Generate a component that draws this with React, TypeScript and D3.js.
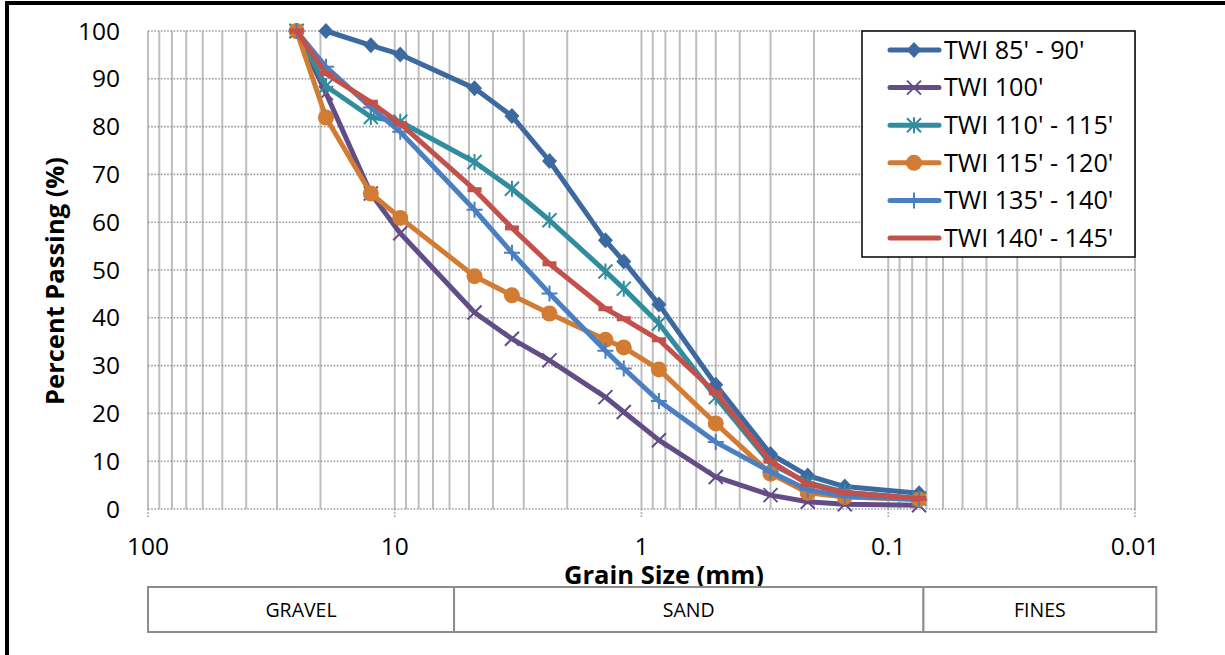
import { useEffect, useRef } from "react";
import * as d3 from "d3";

// sieve openings (mm) shared by every test
const sieveSizes = [25, 19, 12.5, 9.5, 4.75, 3.35, 2.36, 1.4, 1.18, 0.85, 0.5, 0.3, 0.212, 0.15, 0.075];

const seriesNames = ["TWI 85' - 90'", "TWI 100'", "TWI 110' - 115'", "TWI 115' - 120'", "TWI 135' - 140'", "TWI 140' - 145'"];

const twi85to90 = [null, 100, 97, 95.1, 88, 82.2, 72.8, 56.2, 51.8, 42.8, 26, 11.5, 7, 4.7, 3.3];
const twi100 = [100, 87, 66, 57.7, 41.1, 35.6, 31.1, 23.4, 20.3, 14.4, 6.7, 2.9, 1.5, 1.0, 0.8];
const twi110to115 = [100, 88.5, 82, 81, 72.6, 67, 60.4, 49.7, 46.1, 38.8, 23.4, 9.5, 5.5, 3.5, 2.2];
const twi115to120 = [100, 81.9, 66, 60.9, 48.7, 44.7, 40.9, 35.4, 33.8, 29.2, 17.9, 7.4, 3.4, 2.5, 2.0];
const twi135to140 = [100, 92.5, 84, 78.9, 62.6, 53.6, 45.1, 33.1, 29.4, 22.6, 14, 7.8, 4, 2.7, 2.0];
const twi140to145 = [100, 91.1, 85.1, 80.6, 66.8, 58.8, 51.3, 41.9, 39.8, 35.4, 24.3, 10, 5.2, 3.4, 2.2];

const seriesValues = [twi85to90, twi100, twi110to115, twi115to120, twi135to140, twi140to145];

const yTickValues = [0, 10, 20, 30, 40, 50, 60, 70, 80, 90, 100];
const xTickLabels = [100, 10, 1, 0.1, 0.01];

// soil classification strip under the axis
const soilClasses = ["GRAVEL", "SAND", "FINES"];
const soilBounds = [100, 5.75, 0.072, 0.0082];

const seriesStyles = [
  { color: "#3D69A1", marker: "diamond" },
  { color: "#634D86", marker: "x" },
  { color: "#318C9E", marker: "asterisk" },
  { color: "#D27B33", marker: "circle" },
  { color: "#4A7FC2", marker: "plus" },
  { color: "#C4504B", marker: "dash" },
];

const WIDTH = 1225;
const HEIGHT = 655;
const FONT = "'Open Sans', 'Noto Sans', sans-serif";

type Pt = { size: number; value: number };

const drawMarker = (g: any, kind: string, color: string) => {
  if (kind === "diamond") {
    g.append("path").attr("d", "M0,-8L7.5,0L0,8L-7.5,0Z").attr("fill", color);
  } else if (kind === "circle") {
    g.append("circle").attr("r", 8).attr("fill", color);
  } else if (kind === "x") {
    g.append("path").attr("d", "M-7,-7L7,7M-7,7L7,-7").attr("stroke", color).attr("stroke-width", 2).attr("fill", "none");
  } else if (kind === "asterisk") {
    g.append("path")
      .attr("d", "M-7,-7L7,7M-7,7L7,-7M0,-8L0,8")
      .attr("stroke", color)
      .attr("stroke-width", 2)
      .attr("fill", "none");
  } else if (kind === "plus") {
    g.append("path").attr("d", "M-8,0L8,0M0,-8L0,8").attr("stroke", color).attr("stroke-width", 2).attr("fill", "none");
  } else if (kind === "dash") {
    g.append("rect").attr("x", -7).attr("y", -2.5).attr("width", 14).attr("height", 5).attr("fill", color);
  }
};

export default function App() {
  const svgRef = useRef<SVGSVGElement | null>(null);

  useEffect(() => {
    if (!svgRef.current) return;
    const margin = { top: 31, right: 90, bottom: 146, left: 148 };
    const x = d3
      .scaleLog()
      .domain([100, 0.01])
      .range([margin.left, WIDTH - margin.right]);
    const y = d3
      .scaleLinear()
      .domain([0, 100])
      .range([HEIGHT - margin.bottom, margin.top]);

    const svg = d3.select(svgRef.current);
    svg.selectAll("*").remove();
    svg.attr("width", WIDTH).attr("height", HEIGHT).style("background", "#fff");

    const [x0, x1] = x.range();
    const [yBottom, yTop] = y.range();

    // vertical log grid
    svg
      .append("g")
      .selectAll("line")
      .data(x.ticks())
      .join("line")
      .attr("x1", (d) => x(d))
      .attr("x2", (d) => x(d))
      .attr("y1", yTop)
      .attr("y2", yBottom)
      .attr("stroke", "#BEBEBE")
      .attr("stroke-width", 2);

    // horizontal dotted grid
    svg
      .append("g")
      .selectAll("line")
      .data(yTickValues)
      .join("line")
      .attr("x1", x0)
      .attr("x2", x1)
      .attr("y1", (d) => y(d))
      .attr("y2", (d) => y(d))
      .attr("stroke", "#9A9A9A")
      .attr("stroke-width", 1.6)
      .attr("stroke-dasharray", "1.6,1.6");

    // dotted major ticks under x axis
    svg
      .append("g")
      .selectAll("line")
      .data(xTickLabels)
      .join("line")
      .attr("x1", (d) => x(d))
      .attr("x2", (d) => x(d))
      .attr("y1", yBottom)
      .attr("y2", yBottom + 8)
      .attr("stroke", "#9A9A9A")
      .attr("stroke-width", 1.6)
      .attr("stroke-dasharray", "1.6,1.6");

    // tick labels
    svg
      .append("g")
      .selectAll("text")
      .data(yTickValues)
      .join("text")
      .attr("x", x0 - 28)
      .attr("y", (d) => y(d))
      .attr("dy", "0.35em")
      .attr("text-anchor", "end")
      .attr("font-family", FONT)
      .attr("font-size", 24.5)
      .attr("fill", "#000")
      .text((d) => String(d));

    svg
      .append("g")
      .selectAll("text")
      .data(xTickLabels)
      .join("text")
      .attr("x", (d) => x(d))
      .attr("y", yBottom + 37)
      .attr("dy", "0.35em")
      .attr("text-anchor", "middle")
      .attr("font-family", FONT)
      .attr("font-size", 24.5)
      .attr("fill", "#000")
      .text((d) => String(d));

    // axis titles
    svg
      .append("text")
      .attr("x", 664)
      .attr("y", yBottom + 66)
      .attr("dy", "0.35em")
      .attr("text-anchor", "middle")
      .attr("font-family", FONT)
      .attr("font-weight", "bold")
      .attr("font-size", 25.5)
      .text("Grain Size (mm)");

    svg
      .append("text")
      .attr("transform", `translate(55,${(yTop + yBottom) / 2 + 11}) rotate(-90)`)
      .attr("dy", "0.35em")
      .attr("text-anchor", "middle")
      .attr("font-family", FONT)
      .attr("font-weight", "bold")
      .attr("font-size", 25.5)
      .text("Percent Passing (%)");

    // series
    const line = d3
      .line<Pt>()
      .x((d) => x(d.size))
      .y((d) => y(d.value));

    seriesValues.forEach((values, i) => {
      const style = seriesStyles[i];
      const points: Pt[] = sieveSizes
        .map((size, j) => ({ size, value: values[j] as number }))
        .filter((d) => d.value !== null && d.value !== undefined);
      const g = svg.append("g");
      g.append("path")
        .datum(points)
        .attr("d", line)
        .attr("fill", "none")
        .attr("stroke", style.color)
        .attr("stroke-width", 5)
        .attr("stroke-linejoin", "round")
        .attr("stroke-linecap", "round");
      g.selectAll("g.mk")
        .data(points)
        .join("g")
        .attr("class", "mk")
        .attr("transform", (d) => `translate(${x(d.size)},${y(d.value)})`)
        .each(function () {
          drawMarker(d3.select(this), style.marker, style.color);
        });
    });

    // legend
    const legend = svg.append("g");
    legend
      .append("rect")
      .attr("x", 862)
      .attr("y", 31)
      .attr("width", 273)
      .attr("height", 226)
      .attr("fill", "#fff")
      .attr("stroke", "#000")
      .attr("stroke-width", 1.5);
    seriesNames.forEach((name, i) => {
      const style = seriesStyles[i];
      const cy = 50 + i * 37.6;
      legend
        .append("line")
        .attr("x1", 890)
        .attr("x2", 939)
        .attr("y1", cy)
        .attr("y2", cy)
        .attr("stroke", style.color)
        .attr("stroke-width", 5)
        .attr("stroke-linecap", "round");
      const mk = legend.append("g").attr("transform", `translate(914,${cy})`);
      if (style.marker !== "dash") drawMarker(mk, style.marker, style.color);
      legend
        .append("text")
        .attr("x", 944)
        .attr("y", cy)
        .attr("dy", "0.35em")
        .attr("font-family", FONT)
        .attr("font-size", 25.2)
        .attr("fill", "#000")
        .text(name);
    });

    // soil classification strip
    const strip = svg.append("g");
    soilClasses.forEach((label, i) => {
      const left = x(soilBounds[i]);
      const right = x(soilBounds[i + 1]);
      strip
        .append("rect")
        .attr("x", left)
        .attr("y", 587)
        .attr("width", right - left)
        .attr("height", 45)
        .attr("fill", "#fff")
        .attr("stroke", "#8C8C8C")
        .attr("stroke-width", 2);
      strip
        .append("text")
        .attr("x", (left + right) / 2)
        .attr("y", 610)
        .attr("dy", "0.35em")
        .attr("text-anchor", "middle")
        .attr("font-family", FONT)
        .attr("font-size", 19.5)
        .attr("fill", "#000")
        .text(label);
    });

    // outer chart frame (only top and left edges fall inside the picture)
    svg
      .append("rect")
      .attr("x", 7)
      .attr("y", 3)
      .attr("width", WIDTH + 40)
      .attr("height", HEIGHT + 40)
      .attr("fill", "none")
      .attr("stroke", "#000")
      .attr("stroke-width", 4);
  }, []);

  return (
    <div style={{ position: "fixed", left: 0, top: 0, width: WIDTH, height: HEIGHT }}>
      <svg ref={svgRef} style={{ display: "block" }} />
    </div>
  );
}
